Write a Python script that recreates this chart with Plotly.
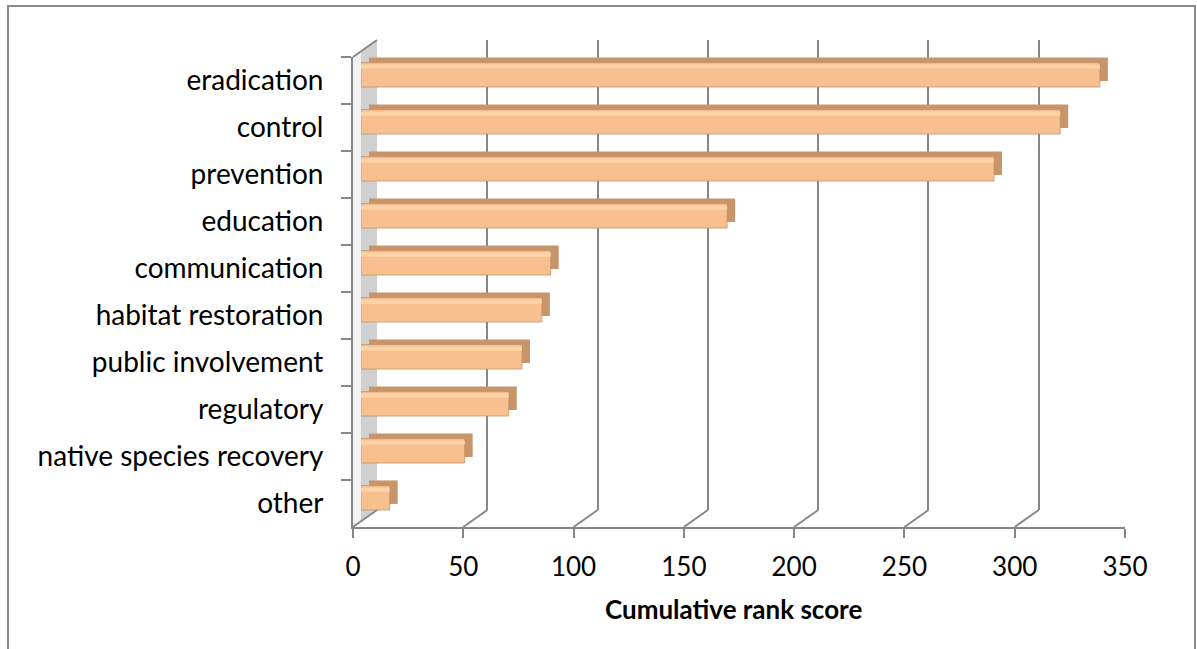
import plotly.graph_objects as go

# ---------------- data ----------------
categories = ["eradication", "control", "prevention", "education", "communication",
              "habitat restoration", "public involvement", "regulatory",
              "native species recovery", "other"]
scores = [335, 317, 287, 166, 86, 82, 73, 67, 47, 13]
tick_values = [0, 50, 100, 150, 200, 250, 300, 350]
x_title = "Cumulative rank score"

# ---------------- geometry / style ----------------
W, H = 1197, 649
def px(x): return x / W
def py(y): return 1 - y / H

FX0, FX1, FY0, FY1 = 353, 1125, 57, 527   # front plane in pixels
DX, DY = 24, 17                            # full depth offset in pixels
XR = [0, 350]
YR = [len(categories) - 0.5, -0.5]
AX = "#878787"
FONT = "Lato"

def xdom(f): return [px(FX0 + DX * f), px(FX1 + DX * f)]
def ydom(f): return [py(FY1 - DY * f), py(FY0 - DY * f)]

fig = go.Figure()

# invisible trace so the back-wall subplot is drawn (its gridlines)
fig.add_trace(go.Scatter(x=[0, 350], y=[0, 1], xaxis="x", yaxis="y", mode="markers",
                         marker=dict(opacity=0), hoverinfo="skip", showlegend=False))
# back bar (depth) -> darker top and end caps
fig.add_trace(go.Bar(orientation="h", x=scores, y=categories, xaxis="x2", yaxis="y2",
                     width=0.50, offset=-0.25,
                     marker=dict(color="#c8956b", line=dict(width=0)),
                     hoverinfo="skip", showlegend=False))
# front face
fig.add_trace(go.Bar(orientation="h", x=scores, y=categories, xaxis="x3", yaxis="y3",
                     width=0.52, offset=-0.26,
                     marker=dict(color="#f9c08f", line=dict(color="rgba(190,140,100,0.7)", width=1)),
                     hoverinfo="skip", showlegend=False))
# soft highlight band on the front face
fig.add_trace(go.Bar(orientation="h", x=scores, y=categories, xaxis="x3", yaxis="y3",
                     width=0.09, offset=-0.22,
                     marker=dict(color="#fcd2a8", line=dict(width=0)),
                     hoverinfo="skip", showlegend=False))
# invisible trace for front axes
fig.add_trace(go.Scatter(x=scores, y=categories, xaxis="x4", yaxis="y4", mode="markers",
                         marker=dict(opacity=0), hoverinfo="skip", showlegend=False))

cat_axis = dict(type="category", categoryorder="array", categoryarray=categories,
                range=YR, showgrid=False, zeroline=False, showline=False,
                showticklabels=False, ticks="", fixedrange=True)
hid_x = dict(range=XR, showgrid=False, zeroline=False, showline=False,
             showticklabels=False, ticks="", fixedrange=True)

shapes = []
# outer chart border
shapes.append(dict(type="rect", xref="paper", yref="paper",
                   x0=px(8), x1=px(1195), y0=py(700), y1=py(6),
                   line=dict(color="#8a8a8a", width=2), layer="below"))
# left wall
shapes.append(dict(type="path", xref="paper", yref="paper",
                   path=f"M {px(FX0)} {py(FY0)} L {px(FX0+DX)} {py(FY0-DY)} "
                        f"L {px(FX0+DX)} {py(FY1-DY)} L {px(FX0)} {py(FY1)} Z",
                   fillcolor="#d0d0d0", line=dict(width=0), layer="below"))
shapes.append(dict(type="path", xref="paper", yref="paper",
                   path=f"M {px(FX0)} {py(FY0)} L {px(FX0+8)} {py(FY0-6)} "
                        f"L {px(FX0+8)} {py(FY1-6)} L {px(FX0)} {py(FY1)} Z",
                   fillcolor="#f2f2f2", line=dict(width=0), layer="below"))
# top-left corner edge
shapes.append(dict(type="line", xref="paper", yref="paper",
                   x0=px(FX0), y0=py(FY0), x1=px(FX0 + DX), y1=py(FY0 - DY),
                   line=dict(color=AX, width=2), layer="above"))
# floor diagonals at each value tick
for v in tick_values:
    shapes.append(dict(type="line", xref="x4", yref="paper",
                       xsizemode="pixel", xanchor=v, x0=0, x1=DX,
                       ysizemode="pixel", yanchor=py(FY1), y0=0, y1=DY,
                       line=dict(color=AX, width=2), layer="above"))

fig.update_layout(
    width=W, height=H, autosize=False,
    margin=dict(l=0, r=0, t=0, b=0, pad=0),
    paper_bgcolor="white", plot_bgcolor="rgba(0,0,0,0)",
    barmode="overlay", showlegend=False,
    font=dict(family=FONT, color="black"),
    # back wall: gridlines
    xaxis=dict(domain=xdom(1), anchor="y", range=XR, tickvals=tick_values,
               showgrid=True, gridcolor=AX, gridwidth=2, zeroline=False,
               showline=False, showticklabels=False, ticks="", fixedrange=True),
    yaxis=dict(domain=ydom(1), anchor="x", range=[0, 1], showgrid=False,
               zeroline=False, showline=False, showticklabels=False, ticks="",
               fixedrange=True),
    # back of bars
    xaxis2=dict(domain=xdom(2/3), anchor="y2", **hid_x),
    yaxis2=dict(domain=ydom(2/3), anchor="x2", **cat_axis),
    # front of bars
    xaxis3=dict(domain=xdom(1/3), anchor="y3", **hid_x),
    yaxis3=dict(domain=ydom(1/3), anchor="x3", **cat_axis),
    # front axes with ticks and labels
    xaxis4=dict(domain=xdom(0), anchor="y4", range=XR, tickvals=tick_values,
                showgrid=False, zeroline=False, showline=True, linecolor=AX, linewidth=2,
                ticks="outside", ticklen=9, tickwidth=2, tickcolor=AX,
                tickfont=dict(family=FONT, size=26, color="black"),
                ticklabelstandoff=7, fixedrange=True, automargin=False),
    yaxis4=dict(domain=ydom(0), anchor="x4", type="category", categoryorder="array",
                categoryarray=categories, range=YR, showgrid=False, zeroline=False,
                showline=True, linecolor=AX, linewidth=2,
                ticks="outside", tickson="boundaries", ticklen=10, tickwidth=2,
                tickcolor=AX, tickfont=dict(family=FONT, size=28, color="black"),
                ticklabelstandoff=22, fixedrange=True, automargin=False),
    shapes=shapes,
    annotations=[dict(text=f"<b>{x_title}</b>", xref="paper", yref="paper",
                      x=px(733), y=py(609), xanchor="center", yanchor="middle",
                      showarrow=False, font=dict(family=FONT, size=26, color="black"))],
)

fig.write_html("out.html", config={"responsive": False},
               post_script="document.body.style.margin='0';document.documentElement.style.overflow='hidden';")
